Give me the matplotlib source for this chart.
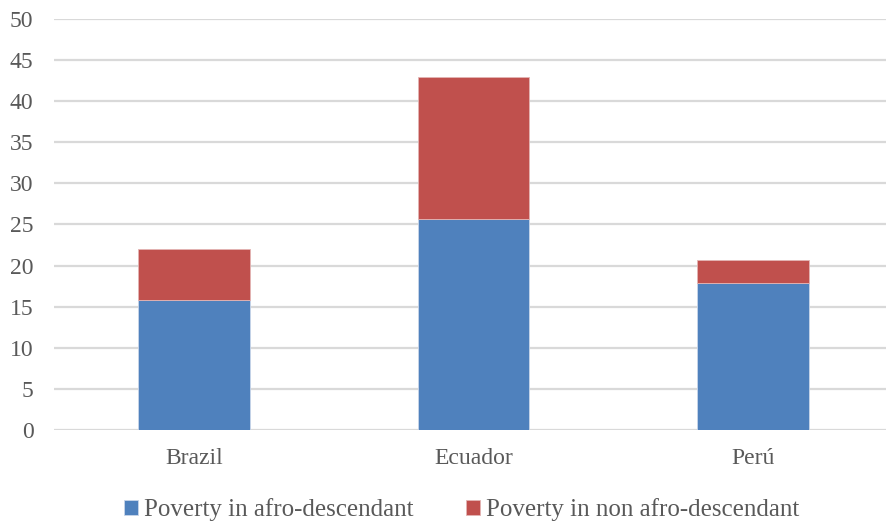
import matplotlib.pyplot as plt

countries = ['Brazil', 'Ecuador', 'Perú']
afro = [15.8, 25.7, 17.9]
non_afro = [6.2, 17.3, 2.8]
yticks = [0, 5, 10, 15, 20, 25, 30, 35, 40, 45, 50]

plt.rcParams['font.family'] = ['Liberation Serif', 'DejaVu Serif']
grey = '#595959'

fig = plt.figure(figsize=(8.86, 5.23), dpi=100)
W, H = 886, 523
left_px, right_px, top_px, bot_px = 54.25, 886, 19, 430
ax = fig.add_axes([left_px / W, 1 - bot_px / H, (right_px - left_px) / W, (bot_px - top_px) / H])

x = range(len(countries))
b1 = ax.bar(x, afro, width=0.4, color='#4F81BD', edgecolor='#c9d6ea', linewidth=0.6,
            label='Poverty in afro-descendant', zorder=3)
b2 = ax.bar(x, non_afro, bottom=afro, width=0.4, color='#C0504D', edgecolor='#e3b5b4',
            linewidth=0.6, label='Poverty in non afro-descendant', zorder=3)

ax.set_xlim(-0.5, -0.5 + (right_px - left_px) / 279.5)
ax.set_ylim(0, 50)
ax.set_yticks(yticks)
ax.set_xticks(list(x))
ax.set_xticklabels(countries)
ax.grid(axis='y', color='#D9D9D9', linewidth=1.6, zorder=0)
for s in ax.spines.values():
    s.set_visible(False)
ax.tick_params(axis='both', length=0, colors=grey, labelsize=17)
ax.tick_params(axis='y', pad=15)
ax.tick_params(axis='x', pad=13)

fig.legend(handles=[b1, b2], loc='center', bbox_to_anchor=(461.5 / W, 13 / H), ncol=2,
           frameon=False, fontsize=18, labelcolor=grey, handlelength=0.55, handleheight=0.55,
           handletextpad=0.25, columnspacing=2.1, borderpad=0.1)

fig.savefig('out.png', dpi=100)
